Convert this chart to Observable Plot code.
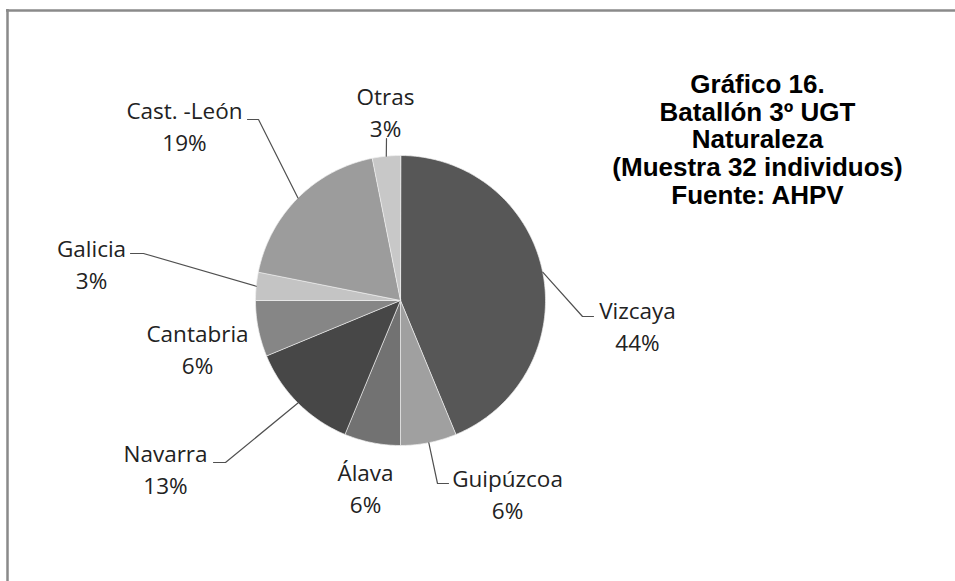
<!DOCTYPE html>
<html><head><meta charset="utf-8">
<script src="https://cdn.jsdelivr.net/npm/d3@7"></script>
<script src="https://cdn.jsdelivr.net/npm/@observablehq/plot@0.6"></script>
<style>html,body{margin:0;padding:0;background:#fff}</style>
</head><body><div id="chart"></div>
<script>
// ---- data ----
const categories = ["Vizcaya", "Guipúzcoa", "Álava", "Navarra", "Cantabria", "Galicia", "Cast. -León", "Otras"];
const counts = [14, 2, 2, 4, 2, 1, 6, 1];
const sliceColors = ["#575757", "#a0a0a0", "#727272", "#474747", "#868686", "#c4c4c4", "#9c9c9c", "#c8c8c8"];
const titleLines = ["Gráfico 16.", "Batallón 3º UGT", "Naturaleza", "(Muestra 32 individuos)", "Fuente: AHPV"];

// ---- layout (pixels) ----
const W = 955, H = 581, CX = 400, CY = 300, R = 145;
const labelCenters = [[637, 326], [507, 494], [365, 488], [165, 469], [197, 349], [91, 264], [184, 126], [385, 112]];
const leaderElbows = [[582, 316, 593], [437, 483, 448], null, [225, 462, 213], null, [143, 253, 130], [258, 119, 247], [386, 138, 386]];

const total = d3.sum(counts);
const arcs = d3.pie().sort(null).value(d => d).startAngle(0).endAngle(2 * Math.PI)(counts);
const pt = (a, r) => [CX + r * Math.sin(a), CY - r * Math.cos(a)];

// slice outlines derived from the pie angles
const slicePts = [];
arcs.forEach((a, i) => {
  const cat = categories[i], color = sliceColors[i];
  slicePts.push({cat, color, x: CX, y: CY});
  const n = Math.max(2, Math.ceil((a.endAngle - a.startAngle) / (Math.PI / 180)));
  for (let k = 0; k <= n; k++) {
    const [x, y] = pt(a.startAngle + (a.endAngle - a.startAngle) * k / n, R);
    slicePts.push({cat, color, x, y});
  }
});

// leader lines: from slice mid-angle edge to the label elbow
const leaderPts = [];
arcs.forEach((a, i) => {
  const e = leaderElbows[i];
  if (!e) return;
  const [ex, ey] = pt((a.startAngle + a.endAngle) / 2, R);
  leaderPts.push({cat: categories[i], x: ex, y: ey});
  leaderPts.push({cat: categories[i], x: e[0], y: e[1]});
  leaderPts.push({cat: categories[i], x: e[2], y: e[1]});
});

const labels = categories.map((c, i) => ({
  x: labelCenters[i][0], y: labelCenters[i][1],
  text: c + "\n" + Math.round(100 * counts[i] / total) + "%"
}));

const chart = Plot.plot({
  width: W, height: H,
  margin: 0,
  x: {domain: [0, W], range: [0, W], axis: null},
  y: {domain: [0, H], range: [0, H], axis: null},
  color: {type: "identity"},
  style: {background: "#fff"},
  marks: [
    Plot.ruleY([10], {x1: 6, x2: W, stroke: "#8a8a8a", strokeWidth: 2.5}),
    Plot.ruleX([7], {y1: 9, y2: H, stroke: "#8a8a8a", strokeWidth: 2.5}),
    Plot.line(slicePts, {x: "x", y: "y", z: "cat", fill: "color", stroke: "#f0f0f0", strokeWidth: 0.7, curve: "linear-closed"}),
    Plot.line(leaderPts, {x: "x", y: "y", z: "cat", stroke: "#505050", strokeWidth: 1.2}),
    Plot.text(labels, {x: "x", y: "y", dy: -2, text: "text", fontSize: 22.5, fontFamily: "Open Sans", lineHeight: 1.42, fill: "#222", lineAnchor: "middle"}),
    Plot.text([titleLines.join("\n")], {x: 757, y: 139, text: d => d, fontSize: 26, fontWeight: "bold", fontFamily: "Liberation Sans, Arial", lineHeight: 1.067, fill: "#000", lineAnchor: "middle"})
  ]
});
document.getElementById("chart").appendChild(chart);
</script>
</body></html>
